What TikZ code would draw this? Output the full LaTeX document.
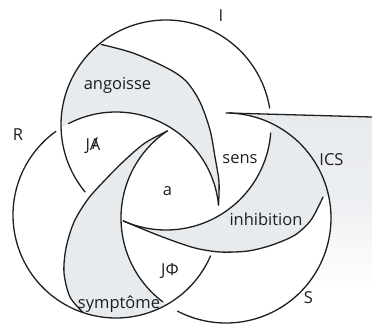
\documentclass[tikz,border=0pt]{standalone}
\usepackage{fontspec}
\setmainfont{Open Sans}
\definecolor{lunefill}{RGB}{232,235,238}
\definecolor{inkcol}{RGB}{30,30,30}
\begin{document}
\begin{tikzpicture}[x=1pt,y=-1pt,
  ring/.style={line width=1.3pt, draw=inkcol, line cap=round},
  shade/.style={fill=lunefill},
  lbl/.style={font=\fontsize{16.5}{18}\selectfont, anchor=base, inner sep=0pt, text=inkcol}]
\useasboundingbox (0,0) rectangle (372,329);
% ---- shaded regions ----
% ICS wedge (fading towards the bottom)
\shade[top color=lunefill, bottom color=white, middle color=lunefill!80!white]
  (228.9,113.04) -- (372,117) -- (372,285) -- (310,285)
  -- plot[domain=42:-88.4, samples=80] ({226+105*cos(\x)},{218+105*sin(\x)}) -- cycle;
% angoisse
\fill[shade] plot[smooth] coordinates {(101.5,44.5) (133,53) (167,68) (186,81) (200,102) (210,130) (215,157) (219,182) (218.5,205.1)}
  -- plot[domain=-5.5:-122.3, samples=60] ({116+103*cos(\x)},{215+103*sin(\x)})
  -- plot[domain=-181.6:-128.7, samples=40] ({166+105*cos(\x)},{125+105*sin(\x)}) -- cycle;
% inhibition
\fill[shade] plot[domain=114:-1.1, samples=80] ({166+105*cos(\x)},{125+105*sin(\x)})
  -- plot[domain=-64.7:-12.2, samples=40] ({226+105*cos(\x)},{218+105*sin(\x)})
  -- plot[smooth] coordinates {(323,197) (311,220) (295,235) (272,245) (248,251) (220,252) (195,248) (168,239) (145,230) (123.3,220.9)} -- cycle;
% symptome
\fill[shade] plot[smooth] coordinates {(83.2,312.6) (70,297) (64,273) (66,248) (74,222) (88,199) (106,179) (125,160) (145,143) (167.3,131)}
  -- plot[domain=236:124.4, samples=80] ({226+105*cos(\x)},{218+105*sin(\x)})
  -- plot[domain=60.5:108.6, samples=40] ({116+103*cos(\x)},{215+103*sin(\x)}) -- cycle;
% ---- ring I ----
\draw[ring] plot[domain=114:4.4, samples=100] ({166+105*cos(\x)},{125+105*sin(\x)});
\draw[ring] plot[domain=-9.3:-219.6, samples=160] ({166+105*cos(\x)},{125+105*sin(\x)});
\draw[ring] plot[smooth] coordinates {(323,197) (311,220) (295,235) (272,245) (248,251) (220,252) (195,248) (168,239) (145,230) (123.3,220.9)};
% ---- ring R ----
\draw[ring] plot[domain=-5.5:-117.5, samples=90] ({116+103*cos(\x)},{215+103*sin(\x)});
\draw[ring] plot[domain=-125.7:-336.6, samples=160] ({116+103*cos(\x)},{215+103*sin(\x)});
\draw[ring] plot[smooth] coordinates {(101.5,44.5) (133,53) (167,68) (186,81) (200,102) (210,130) (215,157) (219,182) (218.5,205.1)};
% ---- ring S ----
\coordinate (tL) at (226,112.96);
\coordinate (tR) at (372,117);
\draw[ring] (tL) -- (tR);
\draw[ring] plot[domain=-88.4:117.5, samples=160] ({226+105*cos(\x)},{218+105*sin(\x)});
\draw[ring] plot[domain=127:236, samples=90] ({226+105*cos(\x)},{218+105*sin(\x)});
\draw[ring] plot[smooth] coordinates {(83.2,312.6) (70,297) (64,273) (66,248) (74,222) (88,199) (106,179) (125,160) (145,143) (167.3,131)};
% ---- labels ----
\node[lbl] (lI) at (221,22) {I};
\node[lbl] (lR) at (18,140) {R};
\node[lbl] (lS) at (308.5,303) {S};
\node[lbl] (lang) at (117.5,89.5) {angoisse};
\node[lbl] (lJA) at (93,150) {J\ooalign{A\cr\hidewidth\raisebox{0.3pt}{/}\hidewidth}};
\node[lbl] (lsens) at (240,163) {sens};
\node[lbl] (lICS) at (331.5,165) {ICS};
\node[lbl] (la) at (167.5,195) {a};
\node[lbl] (linh) at (266,225) {inhibition};
\node[lbl] (lJP) at (170,275) {JΦ};
\node[lbl] (lsym) at (119,308) {symptôme};
\end{tikzpicture}
\end{document}
